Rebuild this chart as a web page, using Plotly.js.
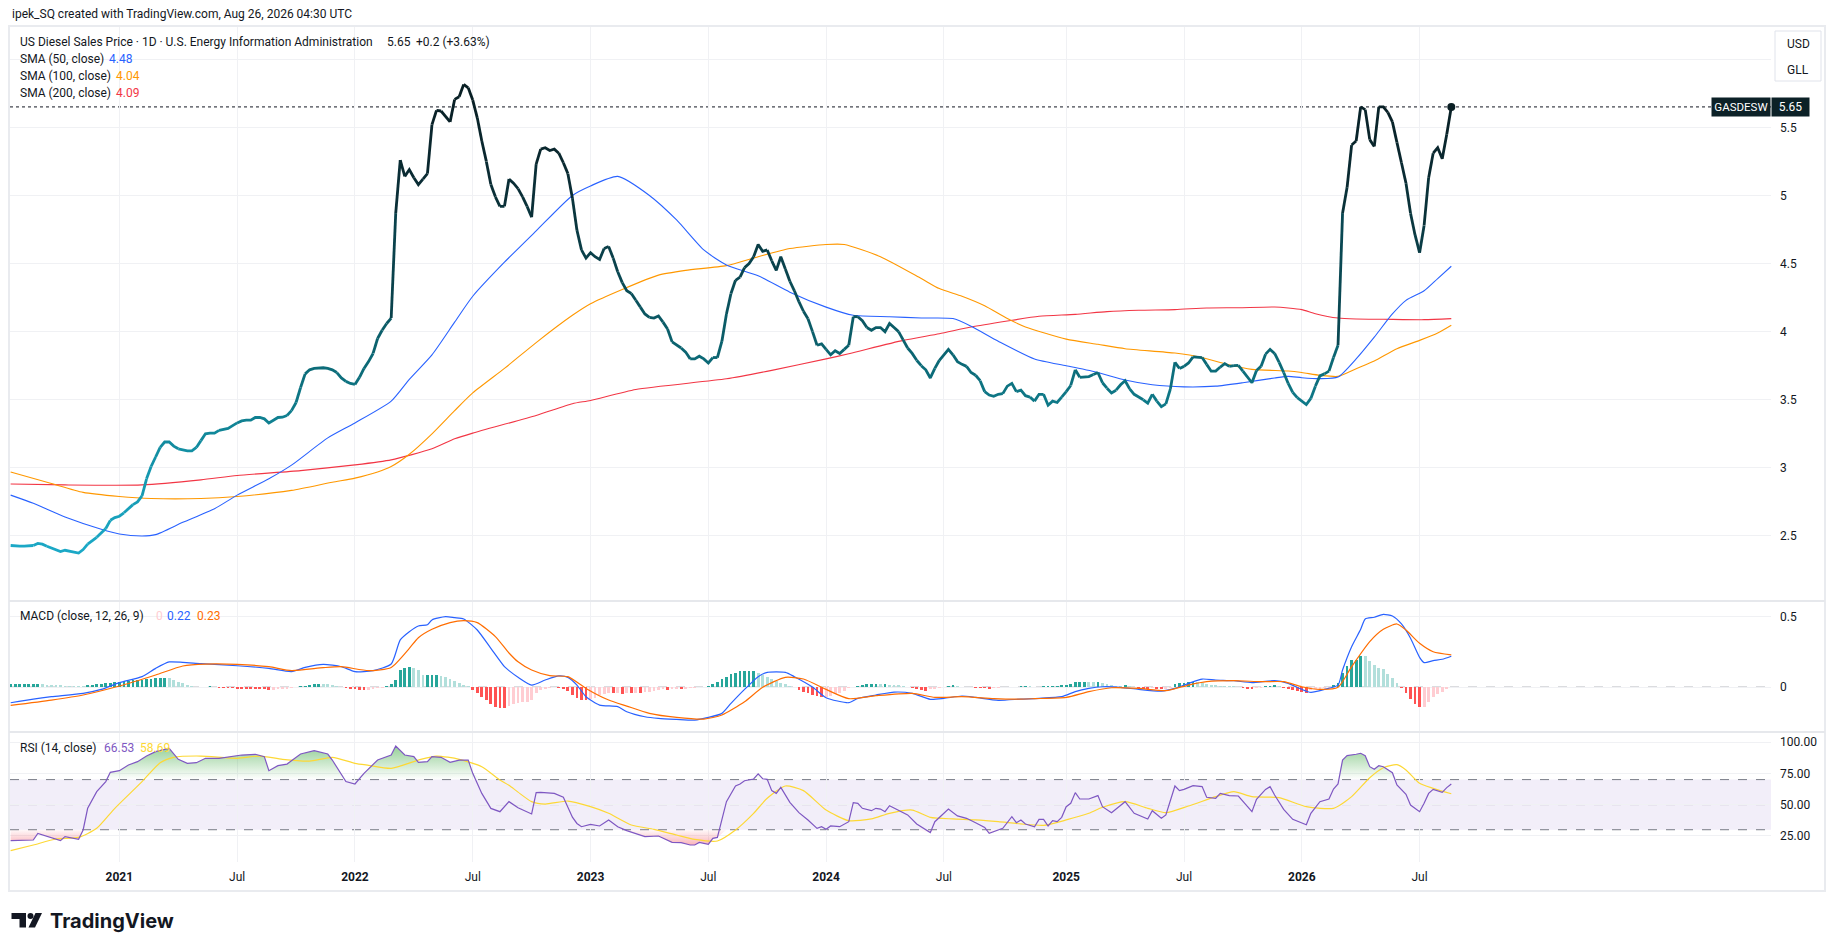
<!DOCTYPE html>
<html>
<head>
<meta charset="utf-8">
<script src="https://cdn.plot.ly/plotly-3.0.1.min.js"></script>
<style>
html,body{margin:0;padding:0;background:#ffffff;overflow:hidden;}
#chart{width:1835px;height:951px;}
</style>
</head>
<body>
<div id="chart"></div>
<script>
// ---------------- DATA ----------------
// Weekly observations (Mondays) starting 2020-07-20, one value per week
const firstWeek = '2020-07-20';
const priceValues = [
 2.43,2.425,2.425,2.425,2.425,2.43,2.445,2.44,2.425,2.41,
 2.395,2.385,2.395,2.39,2.385,2.375,2.40,2.44,2.465,2.49,
 2.52,2.555,2.615,2.635,2.645,2.67,2.70,2.73,2.75,2.795,
 2.92,3.01,3.08,3.15,3.19,3.19,3.16,3.14,3.13,3.125,
 3.125,3.15,3.20,3.25,3.255,3.255,3.275,3.285,3.29,3.31,
 3.33,3.345,3.35,3.35,3.37,3.37,3.36,3.33,3.35,3.37,
 3.372,3.385,3.42,3.48,3.59,3.69,3.72,3.73,3.735,3.735,
 3.73,3.72,3.70,3.66,3.635,3.62,3.613,3.665,3.73,3.78,
 3.84,3.95,4.01,4.06,4.10,4.87,5.26,5.14,5.19,5.13,
 5.08,5.12,5.16,5.52,5.625,5.62,5.58,5.54,5.705,5.725,
 5.815,5.79,5.70,5.57,5.40,5.25,5.08,4.99,4.92,4.92,
 5.12,5.09,5.05,4.99,4.92,4.84,5.23,5.34,5.35,5.33,
 5.34,5.31,5.24,5.16,4.98,4.745,4.60,4.54,4.58,4.55,
 4.53,4.61,4.625,4.54,4.44,4.36,4.30,4.28,4.23,4.18,
 4.13,4.105,4.10,4.115,4.07,4.02,3.925,3.90,3.88,3.85,
 3.80,3.80,3.82,3.80,3.77,3.81,3.81,3.93,4.13,4.28,
 4.377,4.40,4.47,4.50,4.55,4.64,4.59,4.60,4.52,4.45,
 4.55,4.46,4.37,4.30,4.22,4.15,4.095,4.00,3.90,3.91,
 3.87,3.83,3.86,3.84,3.87,3.90,4.11,4.11,4.08,4.03,
 4.01,4.03,4.03,4.00,4.06,4.03,4.00,3.94,3.88,3.84,
 3.79,3.75,3.72,3.66,3.73,3.79,3.83,3.87,3.83,3.78,
 3.76,3.745,3.70,3.68,3.64,3.56,3.535,3.525,3.54,3.545,
 3.60,3.62,3.56,3.57,3.53,3.52,3.49,3.54,3.54,3.46,
 3.49,3.48,3.52,3.56,3.605,3.72,3.665,3.665,3.67,3.685,
 3.70,3.625,3.585,3.55,3.57,3.61,3.64,3.58,3.54,3.52,
 3.50,3.475,3.54,3.49,3.45,3.47,3.58,3.775,3.73,3.745,
 3.77,3.815,3.815,3.81,3.76,3.71,3.71,3.74,3.765,3.745,
 3.75,3.752,3.71,3.665,3.625,3.715,3.745,3.835,3.87,3.84,
 3.775,3.70,3.62,3.555,3.515,3.49,3.465,3.51,3.60,3.675,
 3.69,3.71,3.81,3.90,4.87,5.06,5.37,5.40,5.65,5.63,
 5.41,5.36,5.65,5.65,5.61,5.54,5.39,5.24,5.09,4.87,
 4.71,4.58,4.78,5.13,5.31,5.35,5.27,5.45,5.65
];

// Moving averages: [week index, value]
const sma50Points = [[0,2.80],[5,2.74],[12,2.64],[20,2.55],[24,2.515],[29,2.50],[32,2.51],[38,2.60],[45,2.70],[50,2.80],
 [57,2.92],[62,3.02],[70,3.22],[76,3.33],[84,3.49],[88,3.65],[93,3.83],[98,4.07],[102,4.26],[109,4.51],
 [116,4.74],[124,5.00],[128,5.07],[134,5.14],[141,5.00],[147,4.82],[153,4.60],[158,4.49],[165,4.41],[172,4.29],
 [180,4.18],[186,4.12],[194,4.11],[201,4.10],[208,4.096],[212,4.04],[218,3.93],[226,3.80],[233,3.75],[240,3.70],
 [246,3.645],[252,3.61],[259,3.595],[266,3.60],[272,3.625],[279,3.66],[282,3.672],[285,3.662],[289,3.655],[293,3.667],
 [297,3.80],[301,3.96],[305,4.13],[308,4.23],[312,4.30],[315,4.39],[318,4.48]];
const sma100Points = [[0,2.97],[9,2.885],[16,2.82],[24,2.79],[31,2.775],[42,2.775],[50,2.79],[62,2.835],[71,2.895],[76,2.925],
 [81,2.97],[84,3.01],[88,3.10],[93,3.25],[98,3.42],[102,3.55],[109,3.73],[116,3.92],[124,4.12],[128,4.205],
 [135,4.31],[143,4.415],[149,4.45],[158,4.485],[165,4.55],[172,4.61],[180,4.64],[184,4.64],[192,4.55],[201,4.39],
 [205,4.316],[210,4.26],[215,4.19],[220,4.096],[224,4.035],[233,3.945],[240,3.907],[246,3.875],[257,3.843],[263,3.81],
 [268,3.765],[274,3.723],[282,3.711],[285,3.70],[289,3.68],[293,3.672],[297,3.728],[301,3.784],[306,3.875],[311,3.936],
 [315,3.99],[318,4.047]];
const sma200Points = [[0,2.882],[12,2.875],[29,2.875],[42,2.912],[50,2.944],[64,2.98],[76,3.022],[84,3.059],[93,3.14],[98,3.213],
 [102,3.255],[116,3.385],[124,3.471],[128,3.495],[138,3.576],[158,3.654],[168,3.716],[180,3.80],[185,3.838],[197,3.936],
 [205,3.985],[212,4.034],[220,4.078],[227,4.113],[235,4.127],[242,4.147],[249,4.157],[257,4.162],[264,4.174],[271,4.176],
 [279,4.181],[282,4.174],[285,4.162],[288,4.132],[293,4.10],[297,4.093],[303,4.091],[312,4.088],[318,4.096]];

// MACD (12,26,9): [week index, value]
const macdPoints = [[0,-0.112],[5,-0.086],[9,-0.069],[16,-0.045],[20,-0.017],[24,0.031],[29,0.074],[32,0.133],[35,0.179],[38,0.176],
 [42,0.167],[50,0.152],[57,0.133],[62,0.11],[65,0.14],[69,0.162],[73,0.145],[76,0.11],[80,0.117],[84,0.164],
 [86,0.336],[88,0.395],[90,0.436],[92,0.445],[93,0.479],[96,0.502],[98,0.495],[100,0.486],[103,0.407],[106,0.276],
 [109,0.145],[110,0.117],[112,0.07],[115,0.014],[118,0.05],[121,0.079],[123,0.069],[125,0.014],[127,-0.069],[130,-0.129],
 [134,-0.14],[136,-0.176],[140,-0.212],[143,-0.224],[147,-0.231],[151,-0.236],[154,-0.217],[157,-0.188],[159,-0.117],[162,-0.017],
 [165,0.074],[167,0.105],[171,0.105],[173,0.074],[177,0.0],[180,-0.076],[185,-0.112],[187,-0.081],[191,-0.057],[195,-0.036],
 [199,-0.045],[203,-0.088],[206,-0.081],[210,-0.064],[213,-0.074],[218,-0.095],[223,-0.086],[227,-0.081],[232,-0.069],[235,-0.033],
 [238,-0.01],[241,0.002],[245,-0.002],[249,-0.017],[254,-0.029],[257,-0.01],[260,0.026],[263,0.057],[266,0.05],[270,0.045],
 [274,0.031],[279,0.045],[282,0.026],[285,-0.017],[287,-0.038],[290,-0.017],[293,0.014],[294,0.121],[296,0.288],[298,0.412],
 [299,0.486],[301,0.498],[303,0.519],[305,0.507],[307,0.45],[309,0.348],[311,0.212],[312,0.174],[314,0.188],[316,0.198],[318,0.22]];
const signalPoints = [[0,-0.131],[9,-0.093],[16,-0.057],[24,0.007],[32,0.086],[38,0.15],[43,0.164],[50,0.162],[57,0.145],[62,0.117],
 [69,0.138],[73,0.145],[79,0.117],[84,0.14],[88,0.276],[90,0.352],[93,0.412],[97,0.46],[100,0.474],[103,0.46],
 [107,0.36],[110,0.243],[112,0.18],[115,0.121],[119,0.081],[123,0.074],[127,-0.01],[132,-0.093],[136,-0.136],[141,-0.188],
 [147,-0.217],[153,-0.229],[157,-0.2],[162,-0.105],[166,-0.002],[171,0.069],[175,0.057],[180,-0.017],[185,-0.083],[191,-0.062],
 [199,-0.045],[204,-0.074],[210,-0.069],[217,-0.083],[222,-0.087],[226,-0.083],[233,-0.074],[238,-0.033],[243,-0.005],[249,-0.01],
 [255,-0.026],[260,0.014],[264,0.038],[270,0.045],[276,0.038],[281,0.038],[285,0.002],[289,-0.017],[293,-0.002],[296,0.145],
 [300,0.324],[303,0.412],[306,0.45],[308,0.407],[311,0.312],[314,0.252],[318,0.23]];
// MACD histogram, one bar per week
const histValues = [
 0.022,0.022,0.023,0.023,0.024,0.024,0.025,0.02,0.017,0.015,
 0.012,0.011,0.01,0.009,0.008,0.006,0.005,0.012,0.016,0.02,
 0.024,0.027,0.03,0.035,0.038,0.04,0.043,0.047,0.05,0.052,
 0.055,0.058,0.062,0.065,0.068,0.062,0.05,0.038,0.026,0.014,
 0.007,0.003,0.002,0.003,0.004,0.002,-0.004,-0.006,-0.008,-0.01,
 -0.011,-0.012,-0.013,-0.014,-0.015,-0.016,-0.017,-0.02,-0.018,-0.016,
 -0.014,-0.012,-0.008,-0.003,0.004,0.01,0.016,0.021,0.025,0.024,
 0.02,0.014,0.007,-0.003,-0.008,-0.013,-0.017,-0.02,-0.022,-0.02,
 -0.015,-0.01,-0.004,0.01,0.02,0.05,0.12,0.138,0.145,0.138,
 0.118,0.085,0.086,0.087,0.088,0.08,0.07,0.058,0.045,0.03,
 0.018,0.006,-0.02,-0.045,-0.07,-0.093,-0.12,-0.145,-0.152,-0.153,
 -0.136,-0.124,-0.117,-0.11,-0.105,-0.093,-0.04,-0.024,-0.012,-0.005,
 -0.002,-0.01,-0.017,-0.03,-0.055,-0.076,-0.093,-0.095,-0.088,-0.081,
 -0.057,-0.052,-0.045,-0.045,-0.044,-0.05,-0.045,-0.045,-0.04,-0.04,
 -0.038,-0.033,-0.029,-0.021,-0.017,-0.021,-0.017,-0.014,-0.014,-0.012,
 -0.01,-0.005,0.002,0.003,0.01,0.019,0.036,0.057,0.074,0.093,
 0.1,0.112,0.113,0.115,0.116,0.098,0.086,0.074,0.057,0.045,
 0.031,0.019,0.007,-0.002,-0.021,-0.033,-0.045,-0.057,-0.064,-0.069,
 -0.068,-0.064,-0.05,-0.04,-0.031,-0.01,0.002,0.01,0.017,0.02,
 0.021,0.022,0.019,0.019,0.018,0.017,0.012,0.007,-0.002,-0.01,
 -0.017,-0.018,-0.026,-0.017,-0.012,-0.005,-0.001,0.01,0.011,0.007,
 0.002,0.001,-0.003,-0.007,-0.008,-0.01,-0.012,-0.008,-0.007,-0.003,
 -0.001,0.002,0.003,0.004,0.005,0.004,0.003,0.003,0.004,0.005,
 0.008,0.01,0.012,0.014,0.02,0.033,0.034,0.035,0.034,0.033,
 0.033,0.026,0.019,0.012,0.007,0.005,0.012,0.005,-0.003,-0.01,
 -0.012,-0.014,-0.01,-0.015,-0.017,-0.016,-0.005,0.02,0.026,0.031,
 0.036,0.038,0.036,0.031,0.021,0.017,0.014,0.01,0.007,0.005,
 0.004,0.002,-0.004,-0.014,-0.015,-0.007,-0.004,0.005,0.01,0.012,
 0.007,-0.007,-0.017,-0.024,-0.029,-0.036,-0.043,-0.024,-0.014,-0.012,
 -0.01,-0.005,0.012,0.029,0.098,0.15,0.19,0.195,0.221,0.219,
 0.186,0.155,0.133,0.126,0.093,0.062,0.031,-0.01,-0.045,-0.086,
 -0.124,-0.145,-0.14,-0.105,-0.069,-0.05,-0.033,-0.017,-0.002
];

// RSI (14) and its moving average: [week index, value]
const rsiPoints = [[0,21.3],[2,21.5],[5,21.8],[6,27.1],[9,23.7],[11,21.3],[12,24.5],[14,23.1],[15,22.3],[16,29.8],
 [17,47.1],[19,60.4],[21,68.4],[22,75.8],[24,77.1],[26,81.6],[28,84.3],[30,88.8],[32,92.3],[34,94.1],
 [35,94.9],[37,86.2],[39,83.0],[41,83.5],[43,87.0],[46,87.0],[51,89.6],[54,90.2],[56,88.3],[57,77.1],
 [59,81.1],[61,82.4],[64,90.4],[67,93.1],[70,90.4],[71,85.6],[73,73.7],[74,68.4],[76,66.5],[78,75.0],
 [81,85.6],[84,89.6],[85,96.8],[87,89.6],[89,88.3],[90,83.8],[92,84.3],[93,88.3],[95,87.8],[97,83.8],
 [99,85.6],[101,85.6],[102,75.0],[104,59.0],[106,47.0],[107,45.7],[108,44.4],[110,52.4],[112,47.5],[115,42.6],
 [116,59.6],[117,59.8],[119,59.0],[120,59.0],[122,55.9],[123,48.4],[124,40.0],[125,35.0],[126,32.4],[128,34.3],
 [130,33.0],[132,37.8],[134,32.4],[136,29.3],[138,27.1],[140,24.5],[143,25.0],[144,23.1],[146,19.9],[148,19.7],
 [150,17.8],[151,17.8],[152,19.9],[154,18.4],[155,23.1],[156,23.9],[158,52.4],[160,64.9],[161,66.5],[162,69.1],
 [164,70.5],[165,74.5],[166,70.7],[167,70.2],[168,61.2],[169,59.0],[170,63.8],[172,51.9],[174,43.6],[176,37.8],
 [178,31.1],[179,32.4],[180,30.3],[181,33.0],[183,32.4],[185,36.4],[186,51.6],[187,51.1],[188,47.1],[190,45.2],
 [191,47.1],[192,46.5],[193,44.4],[194,49.2],[196,45.7],[198,41.8],[200,34.6],[203,27.7],[204,36.4],[207,46.5],
 [209,41.0],[211,39.1],[213,35.6],[215,31.9],[216,27.1],[218,29.8],[219,31.1],[221,40.4],[222,35.6],[223,37.8],
 [224,34.6],[226,32.4],[227,38.3],[228,38.3],[229,33.0],[230,37.2],[231,36.4],[232,39.9],[233,48.4],[234,51.1],
 [235,59.6],[236,54.5],[238,54.5],[240,57.2],[241,48.4],[243,43.6],[244,46.3],[246,52.4],[248,43.1],[251,38.6],
 [252,45.2],[254,39.1],[255,41.8],[257,64.9],[258,61.2],[259,62.2],[261,65.2],[263,64.4],[264,55.9],[266,55.1],
 [267,59.0],[269,57.2],[271,56.9],[273,48.9],[274,44.4],[275,54.3],[277,62.2],[278,64.4],[279,57.7],[281,46.3],
 [283,38.3],[286,34.0],[287,43.1],[289,52.4],[291,54.5],[292,62.5],[293,66.5],[294,85.6],[295,89.1],[297,90.2],
 [298,91.0],[299,89.1],[300,80.3],[301,78.2],[302,81.1],[303,80.3],[305,75.5],[306,65.7],[308,58.2],[309,49.7],
 [311,44.4],[312,51.1],[313,59.0],[314,62.2],[316,59.8],[317,63.6],[318,66.53]];
const rsiMaPoints = [[0,13.3],[5,17.8],[10,22.6],[15,23.9],[19,31.1],[23,47.1],[29,68.4],[33,83.5],[36,87.8],[42,88.8],
 [50,87.0],[55,88.8],[60,86.2],[66,84.8],[71,87.8],[76,83.0],[79,81.4],[84,79.0],[90,85.6],[94,88.8],
 [99,86.2],[104,80.3],[108,69.7],[110,65.5],[112,60.0],[115,52.4],[118,50.5],[123,52.9],[128,48.4],[132,43.1],
 [137,33.8],[142,30.3],[147,25.8],[151,22.3],[156,21.0],[160,29.8],[164,43.1],[167,55.1],[171,64.9],[175,61.2],
 [180,45.7],[185,37.2],[190,38.6],[194,43.1],[199,45.7],[203,39.9],[208,38.6],[213,37.8],[218,36.4],[223,34.6],
 [228,33.5],[233,37.8],[238,43.1],[241,47.9],[246,52.4],[251,47.1],[255,43.6],[260,48.9],[266,56.4],[270,60.4],
 [274,56.4],[280,55.6],[286,48.4],[292,47.1],[296,56.4],[300,71.5],[303,79.5],[306,81.9],[308,77.7],[311,67.0],
 [314,63.0],[318,58.69]];

// Time axis ticks (first weekly bar of each period) and labels
const xTickDates = ['2021-01-04','2021-07-05','2022-01-03','2022-07-04','2023-01-02','2023-07-03','2024-01-01','2024-07-01','2025-01-06','2025-07-07','2026-01-05','2026-07-06'];
const xTickLabels = ['<b>2021</b>','Jul','<b>2022</b>','Jul','<b>2023</b>','Jul','<b>2024</b>','Jul','<b>2025</b>','Jul','<b>2026</b>','Jul'];
const priceTicks = [2.5,3,3.5,4,4.5,5,5.5,6];
const priceTickLabels = ['2.5','3','3.5','4','4.5','5','5.5',''];
const macdTicks = [0,0.5];
const macdTickLabels = ['0','0.5'];
const rsiTicks = [25,50,75,100];
const rsiTickLabels = ['25.00','50.00','75.00','100.00'];

// ---------------- BUILD ----------------
if (priceValues.length !== 319) throw new Error('price length ' + priceValues.length);
if (histValues.length !== 319) throw new Error('hist length ' + histValues.length);

const W = 1835, H = 951;
const px = v => v / W;
const py = v => 1 - v / H;
const FONT = 'Roboto, "Noto Sans", "DejaVu Sans", sans-serif';
const TXT = '#131722';

const t0 = Date.UTC(2020, 6, 20);
function weekDate(i) { return new Date(t0 + i * 7 * 864e5).toISOString().slice(0, 10); }
const priceDates = priceValues.map((_, i) => weekDate(i));
const ptsX = p => p.map(d => weekDate(d[0]));
const ptsY = p => p.map(d => d[1]);

// gradient colour of the price line depending on its value
const colorStops = [[2.4,[27,168,198]],[3.0,[20,150,172]],[3.5,[14,120,135]],[3.9,[11,98,110]],[4.5,[10,66,76]],[5.2,[10,42,49]],[5.8,[8,30,35]]];
function priceColor(v) {
  if (v <= colorStops[0][0]) return 'rgb(' + colorStops[0][1].join(',') + ')';
  for (let k = 1; k < colorStops.length; k++) {
    if (v <= colorStops[k][0]) {
      const a = colorStops[k-1], b = colorStops[k];
      const f = (v - a[0]) / (b[0] - a[0]);
      const c = a[1].map((ch, j) => Math.round(ch + f * (b[1][j] - ch)));
      return 'rgb(' + c.join(',') + ')';
    }
  }
  return 'rgb(' + colorStops[colorStops.length-1][1].join(',') + ')';
}

const traces = [];

// SMAs
[[sma200Points,'#f23645'],[sma100Points,'#ff9800'],[sma50Points,'#2962ff']].forEach(([p,c]) => {
  traces.push({x: ptsX(p), y: ptsY(p), type:'scatter', mode:'lines', line:{color:c, width:1.1, shape:'spline', smoothing:0.6},
    hoverinfo:'skip', xaxis:'x', yaxis:'y', showlegend:false});
});

// price line split into colour bands
const BIN = 0.06;
let cur = null;
const groups = [];
for (let k = 0; k < priceValues.length - 1; k++) {
  const mid = (priceValues[k] + priceValues[k+1]) / 2;
  const bin = Math.round(mid / BIN);
  if (!cur || cur.bin !== bin) {
    if (cur) groups.push(cur);
    cur = {bin: bin, xs: [priceDates[k]], ys: [priceValues[k]]};
  }
  cur.xs.push(priceDates[k+1]); cur.ys.push(priceValues[k+1]);
}
groups.push(cur);
groups.forEach(g => traces.push({x: g.xs, y: g.ys, type:'scatter', mode:'lines',
  line:{color: priceColor(g.bin * BIN), width: 2.8}, hoverinfo:'skip', xaxis:'x', yaxis:'y', showlegend:false}));

const lastIdx = priceValues.length - 1;
const lastPrice = priceValues[lastIdx];
traces.push({x:[priceDates[lastIdx]], y:[lastPrice], type:'scatter', mode:'markers',
  marker:{size:8, color:'#0a1f24'}, hoverinfo:'skip', xaxis:'x', yaxis:'y', showlegend:false});

// MACD histogram
const histColors = histValues.map((v, i) => {
  const prev = i > 0 ? histValues[i-1] : v;
  if (v >= 0) return v >= prev ? '#26a69a' : '#b2dfdb';
  return v <= prev ? '#ff5252' : '#ffcdd2';
});
traces.push({x: priceDates, y: histValues, type:'bar', width: 4.3 * 864e5,
  marker:{color: histColors, line:{width:0}}, hoverinfo:'skip', xaxis:'x', yaxis:'y2', showlegend:false});
traces.push({x: ptsX(macdPoints), y: ptsY(macdPoints), type:'scatter', mode:'lines',
  line:{color:'#2962ff', width:1.2, shape:'spline', smoothing:0.6}, hoverinfo:'skip', xaxis:'x', yaxis:'y2', showlegend:false});
traces.push({x: ptsX(signalPoints), y: ptsY(signalPoints), type:'scatter', mode:'lines',
  line:{color:'#ff6d00', width:1.2, shape:'spline', smoothing:0.6}, hoverinfo:'skip', xaxis:'x', yaxis:'y2', showlegend:false});

// RSI fills
const rsiX = ptsX(rsiPoints), rsiY = ptsY(rsiPoints);
traces.push({x: rsiX, y: rsiY.map(() => 70), type:'scatter', mode:'lines', line:{width:0, color:'rgba(0,0,0,0)'},
  hoverinfo:'skip', xaxis:'x', yaxis:'y3', showlegend:false});
traces.push({x: rsiX, y: rsiY.map(v => Math.max(v, 70)), type:'scatter', mode:'lines', line:{width:0, color:'rgba(0,0,0,0)'},
  fill:'tonexty', fillgradient:{type:'vertical', start:70, stop:97, colorscale:[[0,'rgba(76,175,80,0)'],[1,'rgba(76,175,80,0.6)']]},
  hoverinfo:'skip', xaxis:'x', yaxis:'y3', showlegend:false});
traces.push({x: rsiX, y: rsiY.map(() => 30), type:'scatter', mode:'lines', line:{width:0, color:'rgba(0,0,0,0)'},
  hoverinfo:'skip', xaxis:'x', yaxis:'y3', showlegend:false});
traces.push({x: rsiX, y: rsiY.map(v => Math.min(v, 30)), type:'scatter', mode:'lines', line:{width:0, color:'rgba(0,0,0,0)'},
  fill:'tonexty', fillgradient:{type:'vertical', start:15, stop:30, colorscale:[[0,'rgba(242,54,69,0.45)'],[1,'rgba(242,54,69,0.03)']]},
  hoverinfo:'skip', xaxis:'x', yaxis:'y3', showlegend:false});
traces.push({x: ptsX(rsiMaPoints), y: ptsY(rsiMaPoints), type:'scatter', mode:'lines',
  line:{color:'#fdd835', width:1.2, shape:'spline', smoothing:0.6}, hoverinfo:'skip', xaxis:'x', yaxis:'y3', showlegend:false});
traces.push({x: rsiX, y: rsiY, type:'scatter', mode:'lines',
  line:{color:'#7e57c2', width:1.2}, hoverinfo:'skip', xaxis:'x', yaxis:'y3', showlegend:false});

// ---------------- LAYOUT ----------------
const GRID = '#f0f1f4';
const axisFont = {family: FONT, size: 12, color: TXT};
const yCommon = {side:'right', anchor:'x', showgrid:true, gridcolor:GRID, gridwidth:1, zeroline:false, showline:false,
  ticks:'', tickfont:axisFont, ticklabelstandoff:8, fixedrange:true, tickmode:'array'};

function note(x, y, text, color, size, extra) {
  return Object.assign({xref:'paper', yref:'paper', x:px(x), y:py(y), xanchor:'left', yanchor:'middle',
    text:text, showarrow:false, font:{family:FONT, size:size || 12, color:color || TXT}}, extra || {});
}

const LS = 12;
const annotations = [
  note(10, 14, 'ipek_SQ created with TradingView.com, Aug 26, 2026 04:30 UTC', TXT, LS),
  note(17.5, 42, 'US Diesel Sales Price · 1D · U.S. Energy Information Administration', TXT, LS),
  note(385, 42, '5.65', TXT, LS),
  note(414, 42, '+0.2 (+3.63%)', TXT, LS),
  note(17.5, 59, 'SMA (50, close)', TXT, LS),
  note(107, 59, '4.48', '#2962ff', LS),
  note(17.5, 76, 'SMA (100, close)', TXT, LS),
  note(113.5, 76, '4.04', '#ff9800', LS),
  note(17.5, 93, 'SMA (200, close)', TXT, LS),
  note(113.5, 93, '4.09', '#f23645', LS),
  note(17.5, 615.5, 'MACD (close, 12, 26, 9)', TXT, LS),
  note(154, 615.5, '0', '#ffcdd2', LS),
  note(165, 615.5, '0.22', '#2962ff', LS),
  note(195, 615.5, '0.23', '#ff6d00', LS),
  note(17.5, 747.5, 'RSI (14, close)', TXT, LS),
  note(101.5, 747.5, '66.53', '#7e57c2', LS),
  note(138, 747.5, '58.69', '#fdd835', LS),
  note(1798, 43.5, 'USD', TXT, 12, {xanchor:'center'}),
  note(1798, 70, 'GLL', TXT, 12, {xanchor:'center'}),
  {xref:'paper', yref:'y', x:px(1741.2), y:lastPrice, xanchor:'center', yanchor:'middle', text:'GASDESW', showarrow:false,
   font:{family:FONT, size:11.5, color:'#ffffff'}, bgcolor:'#0c2127', width:56, height:16, borderpad:1},
  {xref:'paper', yref:'y', x:px(1790.6), y:lastPrice, xanchor:'center', yanchor:'middle', text:lastPrice.toFixed(2), showarrow:false,
   font:{family:FONT, size:12, color:'#ffffff'}, bgcolor:'#0c2127', width:35, height:16, borderpad:1},
  note(48, 921, '<b>TradingView</b>', TXT, 20, {font:{family:'Inter, Roboto, sans-serif', size:20, color:TXT}})
];

function pxPath(pts) {
  return 'M ' + pts.map(p => px(p[0]).toFixed(5) + ' ' + py(p[1]).toFixed(5)).join(' L ') + ' Z';
}

const shapes = [
  // outer frame & pane separators
  {type:'rect', xref:'paper', yref:'paper', x0:px(9), x1:px(1825), y0:py(891), y1:py(26), line:{color:'#e9ebef', width:2}, fillcolor:'rgba(0,0,0,0)', layer:'above'},
  {type:'line', xref:'paper', yref:'paper', x0:px(9), x1:px(1825), y0:py(601), y1:py(601), line:{color:'#e6e8ec', width:2}, layer:'above'},
  {type:'line', xref:'paper', yref:'paper', x0:px(9), x1:px(1825), y0:py(732), y1:py(732), line:{color:'#e6e8ec', width:2}, layer:'above'},
  // last price dotted line
  {type:'line', xref:'x domain', yref:'y', x0:0, x1:1, y0:lastPrice, y1:lastPrice, line:{color:'#131722', width:1, dash:'dot'}, layer:'below'},
  // MACD zero line
  {type:'line', xref:'x domain', yref:'y2', x0:0, x1:1, y0:0, y1:0, line:{color:'rgba(120,123,134,0.55)', width:1, dash:'dash'}, layer:'below'},
  // RSI band and levels
  {type:'rect', xref:'x domain', yref:'y3', x0:0, x1:1, y0:30, y1:70, fillcolor:'rgba(126,87,194,0.1)', line:{width:0}, layer:'below'},
  {type:'line', xref:'x domain', yref:'y3', x0:0, x1:1, y0:70, y1:70, line:{color:'#787b86', width:1, dash:'dash'}, layer:'below'},
  {type:'line', xref:'x domain', yref:'y3', x0:0, x1:1, y0:50, y1:50, line:{color:'rgba(120,123,134,0.5)', width:1, dash:'dash'}, layer:'below'},
  {type:'line', xref:'x domain', yref:'y3', x0:0, x1:1, y0:30, y1:30, line:{color:'#787b86', width:1, dash:'dash'}, layer:'below'},
  // currency box
  {type:'rect', xref:'paper', yref:'paper', x0:px(1775), x1:px(1821), y0:py(81), y1:py(31), line:{color:'#e0e3eb', width:1}, fillcolor:'#ffffff', layer:'above'},
  // TradingView logo mark
  {type:'path', xref:'paper', yref:'paper', path: pxPath([[11.5,913],[26,913],[26,927.5],[19.5,927.5],[19.5,919],[11.5,919]]), fillcolor:TXT, line:{width:0}, layer:'above'},
  {type:'circle', xref:'paper', yref:'paper', x0:px(27.5), x1:px(33.5), y0:py(919), y1:py(913), fillcolor:TXT, line:{width:0}, layer:'above'},
  {type:'path', xref:'paper', yref:'paper', path: pxPath([[35.5,913],[42,913],[35,927.5],[28.5,927.5]]), fillcolor:TXT, line:{width:0}, layer:'above'}
];

const layout = {
  width: W, height: H,
  margin: {l:0, r:0, t:0, b:0, pad:0},
  paper_bgcolor:'#ffffff', plot_bgcolor:'#ffffff',
  font: {family: FONT, color: TXT, size: 12},
  showlegend:false,
  bargap:0,
  xaxis: {type:'date', domain:[px(10), px(1771)], range:['2020-07-19','2027-12-31'], anchor:'y3',
    tickmode:'array', tickvals:xTickDates, ticktext:xTickLabels, showgrid:true, gridcolor:GRID, gridwidth:1,
    zeroline:false, showline:false, ticks:'', tickfont:axisFont, ticklabelstandoff:6, fixedrange:true},
  yaxis: Object.assign({}, yCommon, {domain:[1-600/H, 1-26/H], range:[2.030, 6.244], tickvals:priceTicks, ticktext:priceTickLabels}),
  yaxis2: Object.assign({}, yCommon, {domain:[1-732/H, 1-601/H], range:[-0.321, 0.614], tickvals:macdTicks, ticktext:macdTickLabels}),
  yaxis3: Object.assign({}, yCommon, {domain:[1-862/H, 1-732/H], range:[4.25, 107.98], tickvals:rsiTicks, ticktext:rsiTickLabels}),
  annotations: annotations,
  shapes: shapes
};

Plotly.newPlot('chart', traces, layout, {displayModeBar:false, staticPlot:true, responsive:false});
</script>
</body>
</html>
